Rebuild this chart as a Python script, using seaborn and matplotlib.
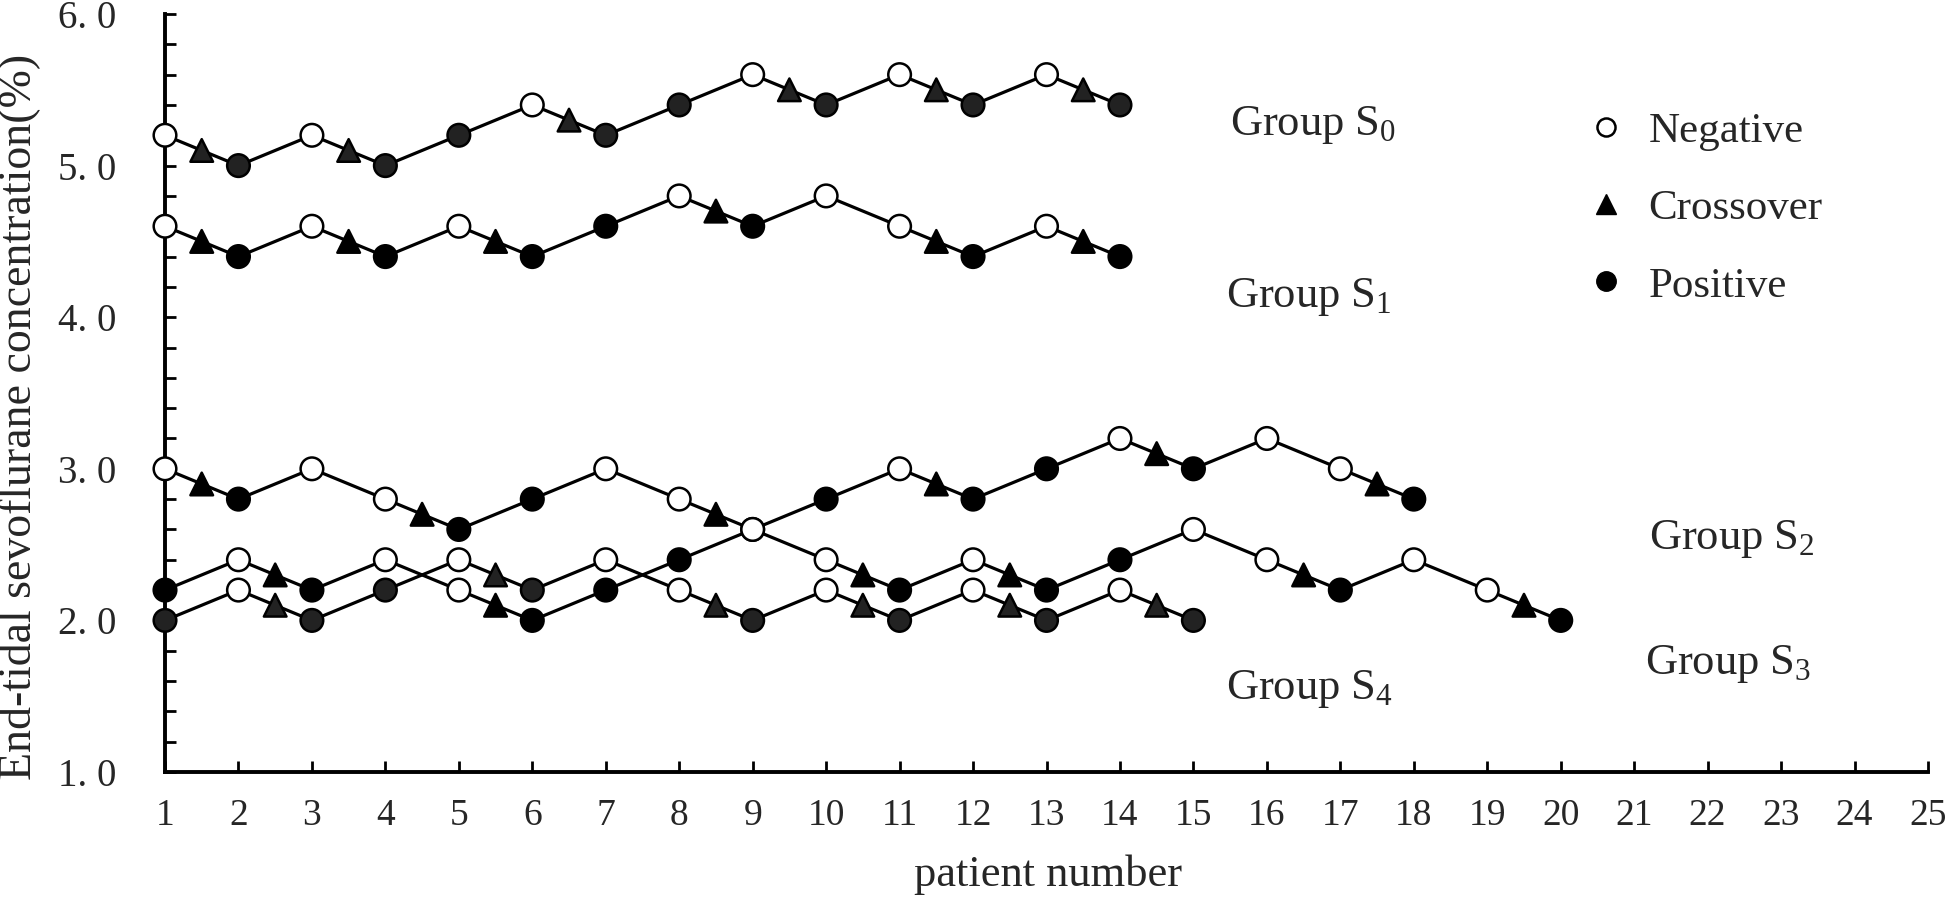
import matplotlib
matplotlib.use("Agg")
import matplotlib.pyplot as plt
from matplotlib.lines import Line2D
from matplotlib.ticker import MultipleLocator
import pandas as pd
import seaborn as sns

# up-and-down sequences, one per group
s0_patient = list(range(1, 15))
s0_conc = [5.2, 5.0, 5.2, 5.0, 5.2, 5.4, 5.2, 5.4, 5.6, 5.4, 5.6, 5.4, 5.6, 5.4]
s0_result = ["N", "P", "N", "P", "P", "N", "P", "P", "N", "P", "N", "P", "N", "P"]
s0_cross_x = [1.5, 3.5, 6.5, 9.5, 11.5, 13.5]
s0_cross_y = [5.1, 5.1, 5.3, 5.5, 5.5, 5.5]

s1_patient = list(range(1, 15))
s1_conc = [4.6, 4.4, 4.6, 4.4, 4.6, 4.4, 4.6, 4.8, 4.6, 4.8, 4.6, 4.4, 4.6, 4.4]
s1_result = ["N", "P", "N", "P", "N", "P", "P", "N", "P", "N", "N", "P", "N", "P"]
s1_cross_x = [1.5, 3.5, 5.5, 8.5, 11.5, 13.5]
s1_cross_y = [4.5, 4.5, 4.5, 4.7, 4.5, 4.5]

s2_patient = list(range(1, 19))
s2_conc = [3.0, 2.8, 3.0, 2.8, 2.6, 2.8, 3.0, 2.8, 2.6, 2.8, 3.0, 2.8, 3.0, 3.2, 3.0, 3.2, 3.0, 2.8]
s2_result = ["N", "P", "N", "N", "P", "P", "N", "N", "P", "P", "N", "P", "P", "N", "P", "N", "N", "P"]
s2_cross_x = [1.5, 4.5, 8.5, 11.5, 14.5, 17.5]
s2_cross_y = [2.9, 2.7, 2.7, 2.9, 3.1, 2.9]

s3_patient = list(range(1, 21))
s3_conc = [2.2, 2.4, 2.2, 2.4, 2.2, 2.0, 2.2, 2.4, 2.6, 2.4, 2.2, 2.4, 2.2, 2.4, 2.6, 2.4, 2.2, 2.4, 2.2, 2.0]
s3_result = ["P", "N", "P", "N", "N", "P", "P", "P", "N", "N", "P", "N", "P", "P", "N", "N", "P", "N", "N", "P"]
s3_cross_x = [2.5, 5.5, 10.5, 12.5, 16.5, 19.5]
s3_cross_y = [2.3, 2.1, 2.3, 2.3, 2.3, 2.1]

s4_patient = list(range(1, 16))
s4_conc = [2.0, 2.2, 2.0, 2.2, 2.4, 2.2, 2.4, 2.2, 2.0, 2.2, 2.0, 2.2, 2.0, 2.2, 2.0]
s4_result = ["P", "N", "P", "P", "N", "P", "N", "N", "P", "N", "P", "N", "P", "N", "P"]
s4_cross_x = [2.5, 5.5, 8.5, 10.5, 12.5, 14.5]
s4_cross_y = [2.1, 2.3, 2.1, 2.1, 2.1, 2.1]

group_names = ["Group S$_0$", "Group S$_1$", "Group S$_2$", "Group S$_3$", "Group S$_4$"]
label_x = [15.5, 15.45, 21.2, 21.15, 15.45]
label_y = [5.27, 4.13, 2.54, 1.71, 1.55]

yticks = [1.0, 2.0, 3.0, 4.0, 5.0, 6.0]
xticks = list(range(1, 26))

groups = [
    (s0_patient, s0_conc, s0_result, s0_cross_x, s0_cross_y, "#222222"),
    (s1_patient, s1_conc, s1_result, s1_cross_x, s1_cross_y, "black"),
    (s2_patient, s2_conc, s2_result, s2_cross_x, s2_cross_y, "black"),
    (s3_patient, s3_conc, s3_result, s3_cross_x, s3_cross_y, "black"),
    (s4_patient, s4_conc, s4_result, s4_cross_x, s4_cross_y, "#222222"),
]

sns.set_style("ticks")
plt.rcParams["font.family"] = ["Liberation Serif", "DejaVu Serif"]
plt.rcParams["mathtext.fontset"] = "custom"
plt.rcParams["mathtext.rm"] = "Liberation Serif"
plt.rcParams["mathtext.it"] = "Liberation Serif:italic"

fig = plt.figure(figsize=(19.46, 8.98), dpi=100)
ax = fig.add_axes([165 / 1946, 126 / 898, 1763 / 1946, 758 / 898])

names = {"N": "Negative", "P": "Positive"}
for pat, conc, res, cx, cy, fill in groups:
    sns.lineplot(x=pat, y=conc, sort=False, estimator=None, color="black",
                 lw=2.3, ax=ax, zorder=2)
    df = pd.DataFrame({
        "patient": list(pat) + list(cx),
        "conc": list(conc) + list(cy),
        "result": [names[r] for r in res] + ["Crossover"] * len(cx),
    })
    sns.scatterplot(data=df, x="patient", y="conc", hue="result", style="result",
                    palette={"Negative": "white", "Positive": fill, "Crossover": fill},
                    markers={"Negative": "o", "Positive": "o", "Crossover": "^"},
                    s=265, edgecolor="black", linewidth=1.8, legend=False,
                    clip_on=False, zorder=3, ax=ax)

for name, lx, ly in zip(group_names, label_x, label_y):
    ax.text(lx, ly, name, fontsize=32, ha="left", va="center")

handles = [
    Line2D([], [], ls="none", marker="o", ms=13, mfc="white", mec="black", mew=1.8, label="Negative"),
    Line2D([], [], ls="none", marker="^", ms=14, mfc="black", mec="black", label="Crossover"),
    Line2D([], [], ls="none", marker="o", ms=14, mfc="black", mec="black", label="Positive"),
]
ax.legend(handles=handles, loc="upper left", bbox_to_anchor=(0.8, 0.893), frameon=False,
          fontsize=31, handlelength=0.6, handletextpad=0.7, labelspacing=0.88,
          borderaxespad=0)

ax.set_xlim(1, 25)
ax.set_ylim(1, 6)
ax.set_xticks(xticks)
ax.set_xticklabels([str(t) for t in xticks])
ax.set_yticks(yticks)
ax.set_yticklabels([f"{t:.1f}".replace(".", ". ") for t in yticks])
ax.yaxis.set_minor_locator(MultipleLocator(0.2))
ax.tick_params(axis="both", which="both", direction="in", length=8, width=2.0, color="black")
ax.tick_params(axis="y", labelsize=28, pad=35)
ax.tick_params(axis="x", labelsize=27, pad=19)
sns.despine(ax=ax)
for sp in ["left", "bottom"]:
    ax.spines[sp].set_linewidth(2.8)
    ax.spines[sp].set_color("black")

ax.set_xlabel("patient number", fontsize=32)
ax.set_ylabel("End-tidal sevoflurane concentration(%)", fontsize=33)
ax.xaxis.set_label_coords(0.501, -0.136)
ax.xaxis.label.set_va("center")
ax.yaxis.set_label_coords(-0.083, 0.468)
ax.yaxis.label.set_va("center")

fig.savefig("out.png", dpi=100)
